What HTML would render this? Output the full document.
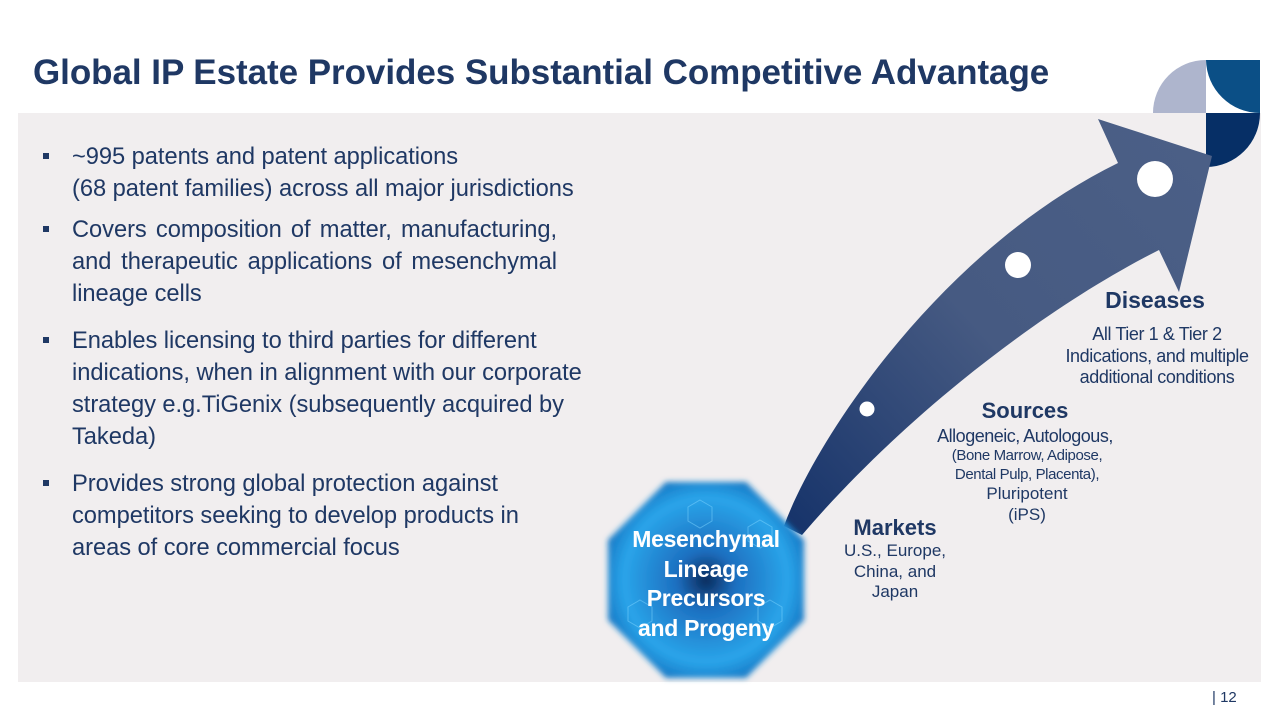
<!DOCTYPE html>
<html><head><meta charset="utf-8"><style>
body{margin:0;width:1280px;height:720px;background:#fff;position:relative;overflow:hidden;font-family:"Liberation Sans",sans-serif;color:#1f3864}
.t{position:absolute;white-space:nowrap}
.b{position:absolute;font-size:23.7px;left:72px;white-space:nowrap;color:#1f3864;letter-spacing:-0.05px;margin-top:2px}
.j{white-space:normal;width:485px;text-align:justify;text-align-last:justify}
.sq{position:absolute;left:43px;width:6px;height:6px;background:#1f3864}
.c{position:absolute;white-space:nowrap;transform:translateX(-50%);text-align:center}
</style></head><body>
<div style="position:absolute;left:18px;top:113px;width:1243px;height:569px;background:#f1eeef"></div>
<div class="t" style="left:33px;top:53px;font-size:35px;font-weight:bold;color:#1f3864;letter-spacing:-0.05px">Global IP Estate Provides Substantial Competitive Advantage</div>
<svg style="position:absolute;left:0;top:0" width="1280" height="720">
<defs>
<linearGradient id="g" x1="790" y1="530" x2="1200" y2="160" gradientUnits="userSpaceOnUse">
<stop offset="0" stop-color="#16336a"/><stop offset="0.5" stop-color="#465a82"/><stop offset="1" stop-color="#4b5f86"/></linearGradient>
<radialGradient id="o" cx="0.5" cy="0.5" r="0.6"><stop offset="0" stop-color="#0b2a5a"/><stop offset="0.25" stop-color="#1d6fc0"/><stop offset="0.7" stop-color="#2aa5ea"/><stop offset="1" stop-color="#0c5fb0"/></radialGradient>
<filter id="bl"><feGaussianBlur stdDeviation="3"/></filter>
</defs>
<path d="M1206,113 L1153,113 A53,53 0 0 1 1206,60 Z" fill="#aeb5cd"/>
<path d="M1206,60 L1260,60 L1260,113 A54,54 0 0 1 1206,60 Z" fill="#0b4f86"/>
<path d="M1206,113 L1260,113 A54,54 0 0 1 1206,167 Z" fill="#062f66"/>
<path d="M784,526 C815,440 940,250 1118,163 L1098,119 L1212,156 L1179,292 L1159,250 C1040,310 900,420 802,535 Z" fill="url(#g)"/>
<circle cx="1155" cy="179" r="18" fill="#fff"/>
<circle cx="1018" cy="265" r="13" fill="#fff"/>
<circle cx="867" cy="409" r="7.5" fill="#fff"/>
<polygon points="666,482 746,482 804,540 804,620 746,678 666,678 608,620 608,540" fill="url(#o)" filter="url(#bl)"/>
<g stroke="#7fd6ff" stroke-width="1" fill="none" opacity="0.5">
<polygon points="700,500 712,507 712,521 700,528 688,521 688,507"/>
<polygon points="760,520 772,527 772,541 760,548 748,541 748,527"/>
<polygon points="640,600 652,607 652,621 640,628 628,621 628,607"/>
<polygon points="770,600 782,607 782,621 770,628 758,621 758,607"/>
</g>
</svg>
<div class="sq" style="top:153px"></div>
<div class="b" style="top:142px">~995 patents and patent applications</div>
<div class="b" style="top:174px">(68 patent families) across all major jurisdictions</div>
<div class="sq" style="top:226px"></div>
<div class="b j" style="top:215px">Covers composition of matter, manufacturing,</div>
<div class="b j" style="top:247px">and therapeutic applications of mesenchymal</div>
<div class="b" style="top:279px">lineage cells</div>
<div class="sq" style="top:337px"></div>
<div class="b" style="top:326px">Enables licensing to third parties for different</div>
<div class="b" style="top:358px">indications, when in alignment with our corporate</div>
<div class="b" style="top:390px">strategy e.g.TiGenix (subsequently acquired by</div>
<div class="b" style="top:422px">Takeda)</div>
<div class="sq" style="top:480px"></div>
<div class="b" style="top:469px">Provides strong global protection against</div>
<div class="b" style="top:501px">competitors seeking to develop products in</div>
<div class="b" style="top:533px">areas of core commercial focus</div>

<div class="c" style="left:706px;top:525px;font-size:23px;font-weight:bold;color:#fff;line-height:29.5px;letter-spacing:-0.3px">Mesenchymal<br>Lineage<br>Precursors<br>and Progeny</div>

<div class="c" style="left:1155px;top:287px;font-size:23px;font-weight:bold">Diseases</div>
<div class="c" style="left:1157px;top:324px;font-size:18px;line-height:21.5px;letter-spacing:-0.4px">All Tier 1 &amp; Tier 2<br>Indications, and multiple<br>additional conditions</div>
<div class="c" style="left:1025px;top:398px;font-size:22px;font-weight:bold">Sources</div>
<div class="c" style="left:1025px;top:426px;font-size:18px;letter-spacing:-0.5px">Allogeneic, Autologous,</div>
<div class="c" style="left:1027px;top:446px;font-size:15px;line-height:19px;letter-spacing:-0.4px">(Bone Marrow, Adipose,<br>Dental Pulp, Placenta),</div>
<div class="c" style="left:1027px;top:483px;font-size:17px;line-height:21px">Pluripotent<br>(iPS)</div>
<div class="c" style="left:895px;top:515px;font-size:22px;font-weight:bold">Markets</div>
<div class="c" style="left:895px;top:541px;font-size:17px;line-height:20.5px">U.S., Europe,<br>China, and<br>Japan</div>
<div class="t" style="left:1212px;top:689px;font-size:15px;color:#1f3864">| 12</div>
</body></html>
